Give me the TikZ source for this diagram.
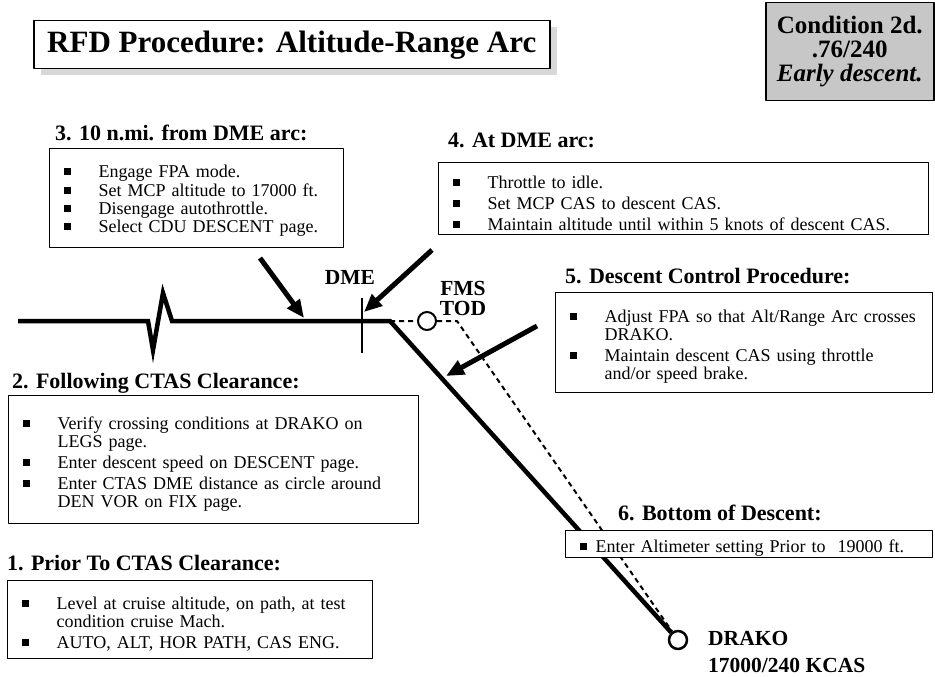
\documentclass[tikz,border=0pt]{standalone}
\usepackage{fontspec}
\setmainfont{Liberation Serif}
\usetikzlibrary{arrows.meta,positioning,shadows}

\newcommand{\bul}{\rule[2.5pt]{7pt}{7pt}}
\newcommand{\itm}[2][35pt]{\par\noindent\hangindent=#1\hangafter=1\makebox[#1][l]{\bul}#2\par}

\begin{document}
\begin{tikzpicture}[x=1pt,y=-1pt,line join=round,
    stepbox/.style={draw,fill=white,line width=1.3pt,inner xsep=14pt,inner ysep=0pt,align=left,anchor=north west,
      font=\fontsize{18}{18}\selectfont\setlength{\parskip}{3pt}},
    head/.style={font=\fontsize{22}{22}\selectfont\bfseries,anchor=base west,inner sep=0pt},
    lbl/.style={font=\fontsize{21.5}{20}\selectfont\bfseries,inner sep=0pt},
    waypt/.style={circle,draw,line width=2pt,minimum size=18pt,inner sep=0pt,fill=white},
    callout/.style={line width=5pt,-{Triangle[length=18pt,width=15pt]}},
    track/.style={line width=4.5pt,line join=miter}]
  \useasboundingbox (0,0) rectangle (935,677);

  % flight path
  \coordinate (west) at (18,321);
  \coordinate (zz1) at (148,321);
  \coordinate (zz2) at (153,350);
  \coordinate (zz3) at (163,293);
  \coordinate (zz4) at (172,321);
  \coordinate (bend) at (390,321);
  \coordinate (todend) at (457,321);
  \coordinate (ticktop) at (362,298);
  \coordinate (tickbot) at (362,353);
  \node[waypt] (tod) at (427,321) {};
  \node[waypt,line width=2.5pt] (drako) at (678,640) {};

  \draw[line width=2pt,dash pattern=on 5pt off 4pt] (bend) -- (tod) (tod) -- (todend) -- (drako);
  \draw[track] (west) -- (zz1) -- (zz2) -- (zz3) -- (zz4) -- (bend) -- (drako);
  \draw[line width=2pt] (ticktop) -- (tickbot);

  \node[lbl] (dmelbl) at (350,277) {DME};
  \node[lbl,align=center] (todlbl) at (463,298) {FMS\\TOD};
  \node[lbl,align=left,anchor=north west,font=\fontsize{21.5}{27}\selectfont\bfseries] (drakolbl) at (708,631)
    {DRAKO\\17000/240 KCAS};

  % title and condition
  \node[draw,line width=1.5pt,fill=white,drop shadow={shadow xshift=7pt,shadow yshift=-6pt,fill=black!30},
    minimum width=516pt,minimum height=48pt,anchor=north west,inner sep=0pt,
    font=\fontsize{31}{31}\selectfont\bfseries] (title) at (33,20) {RFD Procedure: Altitude-Range Arc};
  \node[draw,line width=1.5pt,fill=black!22,minimum width=168pt,minimum height=98pt,anchor=north west,
    align=center,inner sep=0pt,font=\fontsize{25}{24}\selectfont\bfseries] (cond) at (765,2)
    {Condition 2d.\\.76/240\\\textit{Early descent.}};

  % procedure boxes
  \node[stepbox,text width=266pt,minimum height=99pt,font=\fontsize{18}{18.3}\selectfont] (box3) at (49,148)
    {\itm{Engage FPA mode.}\itm{Set MCP altitude to 17000 ft.}\itm{Disengage autothrottle.}\itm{Select CDU DESCENT page.}};
  \node[head] (head3) at ([xshift=6pt,yshift=8pt]box3.north west) {3. 10 n.mi. from DME arc:};

  \node[stepbox,text width=462pt,minimum height=72pt] (box4) at (438,162)
    {\itm{Throttle to idle.}\itm{Set MCP CAS to descent CAS.}\itm{Maintain altitude until within 5 knots of descent CAS.}};
  \node[head] (head4) at ([xshift=10pt,yshift=15pt]box4.north west) {4. At DME arc:};

  \node[stepbox,text width=349pt,minimum height=100pt] (box5) at (555,292)
    {\itm{Adjust FPA so that Alt/Range Arc crosses\newline DRAKO.}\itm{Maintain descent CAS using throttle\newline and/or speed brake.}};
  \node[head] (head5) at ([xshift=10pt,yshift=9pt]box5.north west) {5. Descent Control Procedure:};

  \node[stepbox,text width=382pt,minimum height=128pt] (box2) at (8,395)
    {\itm{Verify crossing conditions at DRAKO on\newline LEGS page.}\itm{Enter descent speed on DESCENT page.}\itm{Enter CTAS DME distance as circle around\newline DEN VOR on FIX page.}};
  \node[head] (head2) at ([xshift=4pt,yshift=7pt]box2.north west) {2. Following CTAS Clearance:};

  \node[stepbox,text width=337pt,minimum height=78pt] (box1) at (7,580)
    {\itm{Level at cruise altitude, on path, at test\newline condition cruise Mach.}\itm{AUTO, ALT, HOR PATH, CAS ENG.}};
  \node[head] (head1) at ([yshift=10pt]box1.north west) {1. Prior To CTAS Clearance:};

  \node[stepbox,text width=339pt,minimum height=27pt] (box6) at (565,530)
    {\itm[16pt]{Enter Altimeter setting Prior to\ \ 19000 ft.}};
  \node[head] (head6) at ([xshift=53pt,yshift=10pt]box6.north west) {6. Bottom of Descent:};

  % callout arrows
  \coordinate (a3start) at (260,258);
  \coordinate (a3tip) at (304,318);
  \coordinate (a4start) at (432,250);
  \coordinate (a4tip) at (364,312);
  \coordinate (a5start) at (537,326);
  \coordinate (a5tip) at (446,376);
  \draw[callout] (a3start) -- (a3tip);
  \draw[callout] (a4start) -- (a4tip);
  \draw[callout] (a5start) -- (a5tip);
\end{tikzpicture}
\end{document}
